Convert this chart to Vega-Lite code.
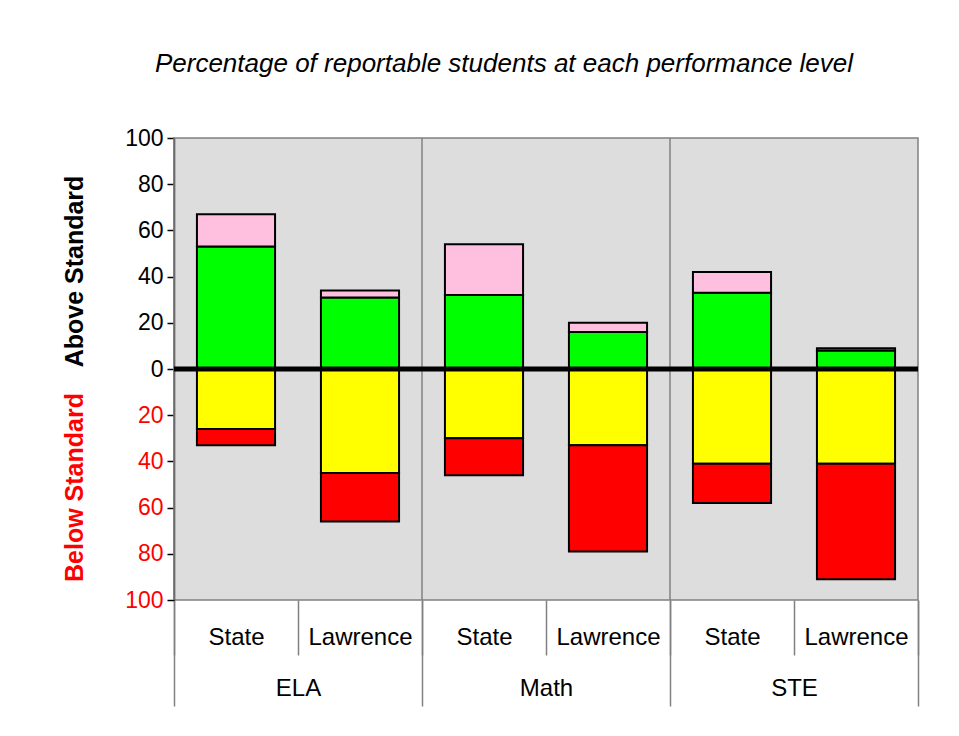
{
  "$schema": "https://vega.github.io/schema/vega-lite/v6.json",
  "width": 744,
  "height": 462,
  "autosize": {"type": "none"},
  "padding": {"left": 174, "top": 138, "right": 41, "bottom": 136},
  "background": "white",
  "title": {
    "text": "Percentage of reportable students at each performance level",
    "font": "Liberation Sans",
    "fontStyle": "italic",
    "fontWeight": "normal",
    "fontSize": 26,
    "color": "black",
    "anchor": "middle",
    "dx": -42,
    "offset": 50
  },
  "config": {
    "font": "Liberation Sans",
    "view": {"fill": "#dddddd", "stroke": "#808080", "strokeWidth": 1.5}
  },
  "resolve": {
    "scale": {"x": "independent"},
    "axis": {"x": "independent", "y": "independent"}
  },
  "layer": [
    {
      "data": {"values": [{"subject": "ELA"}, {"subject": "Math"}, {"subject": "STE"}]},
      "mark": {"type": "rule", "color": "#808080", "strokeWidth": 1.5},
      "encoding": {
        "x": {
          "field": "subject",
          "type": "nominal",
          "sort": null,
          "bandPosition": 0,
          "scale": {"paddingInner": 0, "paddingOuter": 0},
          "axis": {
            "orient": "bottom",
            "title": null,
            "labelAngle": 0,
            "labelFontSize": 24,
            "labelColor": "black",
            "labelBaseline": "top",
            "labelPadding": -30,
            "tickBand": "extent",
            "tickSize": 106,
            "tickColor": "#808080",
            "tickWidth": 1.5,
            "domain": false,
            "grid": false
          }
        }
      }
    },
    {
      "data": {
        "values": [
          {"bar": "ELA|State", "level": "Proficient", "rank": 1, "pct": 53},
          {"bar": "ELA|State", "level": "Advanced", "rank": 2, "pct": 14},
          {"bar": "ELA|State", "level": "Needs Improvement", "rank": 1, "pct": -26},
          {"bar": "ELA|State", "level": "Warning", "rank": 2, "pct": -7},
          {"bar": "ELA|Lawrence", "level": "Proficient", "rank": 1, "pct": 31},
          {"bar": "ELA|Lawrence", "level": "Advanced", "rank": 2, "pct": 3},
          {"bar": "ELA|Lawrence", "level": "Needs Improvement", "rank": 1, "pct": -45},
          {"bar": "ELA|Lawrence", "level": "Warning", "rank": 2, "pct": -21},
          {"bar": "Math|State", "level": "Proficient", "rank": 1, "pct": 32},
          {"bar": "Math|State", "level": "Advanced", "rank": 2, "pct": 22},
          {"bar": "Math|State", "level": "Needs Improvement", "rank": 1, "pct": -30},
          {"bar": "Math|State", "level": "Warning", "rank": 2, "pct": -16},
          {"bar": "Math|Lawrence", "level": "Proficient", "rank": 1, "pct": 16},
          {"bar": "Math|Lawrence", "level": "Advanced", "rank": 2, "pct": 4},
          {"bar": "Math|Lawrence", "level": "Needs Improvement", "rank": 1, "pct": -33},
          {"bar": "Math|Lawrence", "level": "Warning", "rank": 2, "pct": -46},
          {"bar": "STE|State", "level": "Proficient", "rank": 1, "pct": 33},
          {"bar": "STE|State", "level": "Advanced", "rank": 2, "pct": 9},
          {"bar": "STE|State", "level": "Needs Improvement", "rank": 1, "pct": -41},
          {"bar": "STE|State", "level": "Warning", "rank": 2, "pct": -17},
          {"bar": "STE|Lawrence", "level": "Proficient", "rank": 1, "pct": 8},
          {"bar": "STE|Lawrence", "level": "Advanced", "rank": 2, "pct": 1},
          {"bar": "STE|Lawrence", "level": "Needs Improvement", "rank": 1, "pct": -41},
          {"bar": "STE|Lawrence", "level": "Warning", "rank": 2, "pct": -50}
        ]
      },
      "mark": {"type": "bar", "stroke": "black", "strokeWidth": 2, "width": {"band": 0.63}},
      "encoding": {
        "x": {
          "field": "bar",
          "type": "nominal",
          "sort": null,
          "scale": {"paddingInner": 0, "paddingOuter": 0},
          "axis": {
            "orient": "bottom",
            "title": null,
            "labelExpr": "split(datum.value, '|')[1]",
            "labelAngle": 0,
            "labelFontSize": 24,
            "labelColor": "black",
            "labelBaseline": "top",
            "labelPadding": -30,
            "tickBand": "extent",
            "tickSize": 55,
            "tickColor": "#808080",
            "tickWidth": 1.5,
            "domain": false,
            "grid": false
          }
        },
        "y": {
          "field": "pct",
          "type": "quantitative",
          "stack": "zero",
          "scale": {"domain": [-100, 100], "nice": false},
          "axis": {
            "orient": "left",
            "values": [-100, -80, -60, -40, -20, 0, 20, 40, 60, 80, 100],
            "labelExpr": "abs(datum.value)",
            "labelFontSize": 23,
            "labelColor": {"condition": {"test": "datum.value < 0", "value": "#ff0000"}, "value": "black"},
            "labelPadding": 4,
            "tickSize": 7,
            "tickColor": "black",
            "tickWidth": 1.5,
            "domainColor": "#333333",
            "domainWidth": 1.5,
            "grid": false,
            "title": "Above Standard",
            "titleFontSize": 25,
            "titleFontWeight": "bold",
            "titleColor": "black",
            "titleAngle": -90,
            "titleAlign": "center",
            "titleBaseline": "alphabetic",
            "titleX": -92,
            "titleY": 133
          }
        },
        "color": {
          "field": "level",
          "type": "nominal",
          "scale": {
            "domain": ["Advanced", "Proficient", "Needs Improvement", "Warning"],
            "range": ["#ffbfdf", "#00ff00", "#ffff00", "#ff0000"]
          },
          "legend": null
        },
        "order": {"field": "rank", "type": "quantitative"}
      }
    },
    {
      "data": {"values": [{}]},
      "mark": {"type": "rule", "color": "black", "strokeWidth": 5},
      "encoding": {
        "y": {
          "datum": 0,
          "type": "quantitative",
          "scale": {"domain": [-100, 100], "nice": false},
          "axis": {
            "orient": "left",
            "labels": false,
            "ticks": false,
            "domain": false,
            "grid": false,
            "title": "Below Standard",
            "titleFontSize": 25,
            "titleFontWeight": "bold",
            "titleColor": "#ff0000",
            "titleAngle": -90,
            "titleAlign": "center",
            "titleBaseline": "alphabetic",
            "titleX": -92,
            "titleY": 349
          }
        }
      }
    }
  ]
}
